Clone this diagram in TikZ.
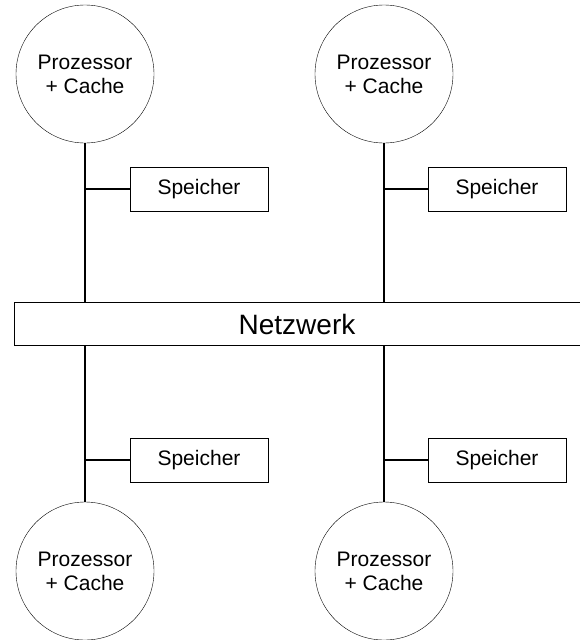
\documentclass[tikz,border=0pt]{standalone}
\usepackage{fontspec}
\setmainfont{Liberation Sans}
\usetikzlibrary{positioning,calc}
\tikzset{
  nwCpu/.style={draw=black, circle, thin, minimum size=138pt, inner sep=0pt,
                align=center, font=\fontsize{21}{24}\selectfont},
  nwMem/.style={draw=black, thin, minimum width=138pt, minimum height=44pt,
                inner sep=0pt, font=\fontsize{21}{24}\selectfont},
  nwNet/.style={draw=black, thin, minimum width=566pt, minimum height=43pt,
                inner sep=0pt, font=\fontsize{28}{30}\selectfont},
  nwLink/.style={draw=black, line width=2.5pt}
}
\begin{document}
\begin{tikzpicture}[x=1pt, y=-1pt]
  \useasboundingbox (0,0) rectangle (579,640);
  \node[nwNet] (net) at (297,324) {Netzwerk};
  \node[nwCpu] (cpuA) at (85,74) {Prozessor\\+ Cache};
  \node[nwCpu] (cpuB) at (384,74) {Prozessor\\+ Cache};
  \node[nwCpu] (cpuC) at (85,571) {Prozessor\\+ Cache};
  \node[nwCpu] (cpuD) at (384,571) {Prozessor\\+ Cache};
  \node[nwMem] (memA) at (199,189) {Speicher};
  \node[nwMem] (memB) at (497,189) {Speicher};
  \node[nwMem] (memC) at (199,460) {Speicher};
  \node[nwMem] (memD) at (497,460) {Speicher};
  % processor links to the network
  \draw[nwLink] (cpuA.south) -- (cpuA.south |- net.north);
  \draw[nwLink] (cpuB.south) -- (cpuB.south |- net.north);
  \draw[nwLink] (cpuC.north) -- (cpuC.north |- net.south);
  \draw[nwLink] (cpuD.north) -- (cpuD.north |- net.south);
  % memory taps
  \draw[nwLink] (memA.west -| cpuA.south) -- (memA.west);
  \draw[nwLink] (memB.west -| cpuB.south) -- (memB.west);
  \draw[nwLink] (memC.west -| cpuC.north) -- (memC.west);
  \draw[nwLink] (memD.west -| cpuD.north) -- (memD.west);
\end{tikzpicture}
\end{document}
